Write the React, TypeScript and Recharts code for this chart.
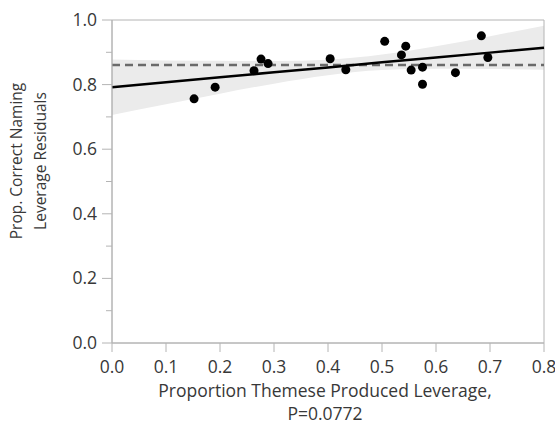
import {
  ComposedChart,
  Scatter,
  Line,
  Area,
  XAxis,
  YAxis,
  ReferenceLine,
  ReferenceArea,
} from 'recharts';

// leverage residual points
const themeProp = [0.152, 0.191, 0.263, 0.276, 0.289, 0.404, 0.433, 0.505, 0.536, 0.544, 0.554, 0.575, 0.575, 0.636, 0.684, 0.696];
const namingResid = [0.756, 0.792, 0.843, 0.879, 0.865, 0.880, 0.846, 0.934, 0.892, 0.919, 0.845, 0.854, 0.801, 0.837, 0.951, 0.884];

// fitted line with its confidence band
const fitX = [0, 0.1, 0.2, 0.3, 0.4, 0.5, 0.6, 0.7, 0.8];
const fitY = [0.792, 0.807, 0.823, 0.838, 0.853, 0.869, 0.884, 0.899, 0.914];
const bandLo = [0.706, 0.739, 0.772, 0.803, 0.829, 0.845, 0.849, 0.848, 0.846];
const bandHi = [0.878, 0.875, 0.874, 0.873, 0.877, 0.893, 0.919, 0.950, 0.982];

const meanY = 0.861;

const xTicks = [0, 0.1, 0.2, 0.3, 0.4, 0.5, 0.6, 0.7, 0.8];
const yTicks = [0, 0.1, 0.2, 0.3, 0.4, 0.5, 0.6, 0.7, 0.8, 0.9, 1.0];

const points = themeProp.map((x, i) => ({ x, y: namingResid[i] }));
const fitRows = fitX.map((x, i) => ({ x, fit: fitY[i], band: [bandLo[i], bandHi[i]] }));

const FONT = '"Open Sans", sans-serif';
const TEXT = '#383838';
const AXIS = '#b4b4b4';

const PLOT_LEFT = 112;
const PLOT_BOTTOM = 343;

const YTick = (props: any) => {
  const { y, payload } = props;
  const v = Math.round(payload.value * 10);
  const major = v % 2 === 0;
  return (
    <g>
      <line x1={PLOT_LEFT - (major ? 10 : 6)} x2={PLOT_LEFT} y1={y} y2={y} stroke={AXIS} strokeWidth={1} />
      {major && (
        <text x={PLOT_LEFT - 15} y={y} dy={6} textAnchor="end" fontSize={17.5} fill={TEXT} fontFamily={FONT}>
          {payload.value.toFixed(1)}
        </text>
      )}
    </g>
  );
};

const XTick = (props: any) => {
  const { x, payload } = props;
  return (
    <g>
      <line x1={x} x2={x} y1={PLOT_BOTTOM} y2={PLOT_BOTTOM + 9} stroke={AXIS} strokeWidth={1} />
      <text x={x} y={PLOT_BOTTOM + 30} textAnchor="middle" fontSize={17.5} fill={TEXT} fontFamily={FONT}>
        {payload.value.toFixed(1)}
      </text>
    </g>
  );
};

const YLabel = () => (
  <g transform="translate(0,161) rotate(-90)" fontFamily={FONT} fontSize={15.5} fill={TEXT}>
    <text x={0} y={22} textAnchor="middle">Prop. Correct Naming</text>
    <text x={0} y={46} textAnchor="middle">Leverage Residuals</text>
  </g>
);

const XLabel = ({ viewBox }: any) => (
  <g fontFamily={FONT} fontSize={17.5} fill={TEXT}>
    <text x={viewBox.x + viewBox.width / 2 - 3} y={PLOT_BOTTOM + 54} textAnchor="middle">
      Proportion Themese Produced Leverage,
    </text>
    <text x={viewBox.x + viewBox.width / 2 - 3} y={PLOT_BOTTOM + 77} textAnchor="middle">
      P=0.0772
    </text>
  </g>
);

export default function App() {
  return (
    <div style={{ position: 'absolute', left: 0, top: 0, background: '#fff' }}>
      <ComposedChart
        width={555}
        height={428}
        data={fitRows}
        margin={{ top: 20, right: 11, bottom: 0, left: 0 }}
      >
        <XAxis
          dataKey="x"
          type="number"
          domain={[0, 0.8]}
          ticks={xTicks}
          interval={0}
          height={428 - PLOT_BOTTOM}
          stroke={AXIS}
          tickLine={false}
          tick={<XTick />}
          label={<XLabel />}
        />
        <YAxis
          type="number"
          domain={[0, 1]}
          ticks={yTicks}
          width={PLOT_LEFT}
          stroke={AXIS}
          tickLine={false}
          tick={<YTick />}
          interval={0}
          label={<YLabel />}
        />
        <Area
          dataKey="band"
          type="monotone"
          stroke="none"
          fill="#ebebeb"
          fillOpacity={1}
          isAnimationActive={false}
        />
        <ReferenceLine y={meanY} stroke="#6a6a6a" strokeWidth={2.5} strokeDasharray="8 5" />
        <Line
          dataKey="fit"
          type="linear"
          stroke="#000"
          strokeWidth={2.5}
          dot={false}
          isAnimationActive={false}
        />
        <Scatter
          data={points}
          dataKey="y"
          fill="#000"
          shape={(p: any) => <circle cx={p.cx} cy={p.cy} r={4.5} fill="#000" />}
          isAnimationActive={false}
        />
        <ReferenceArea x1={0} x2={0.8} y1={0} y2={1} fill="none" stroke={AXIS} strokeWidth={1} />
      </ComposedChart>
    </div>
  );
}
